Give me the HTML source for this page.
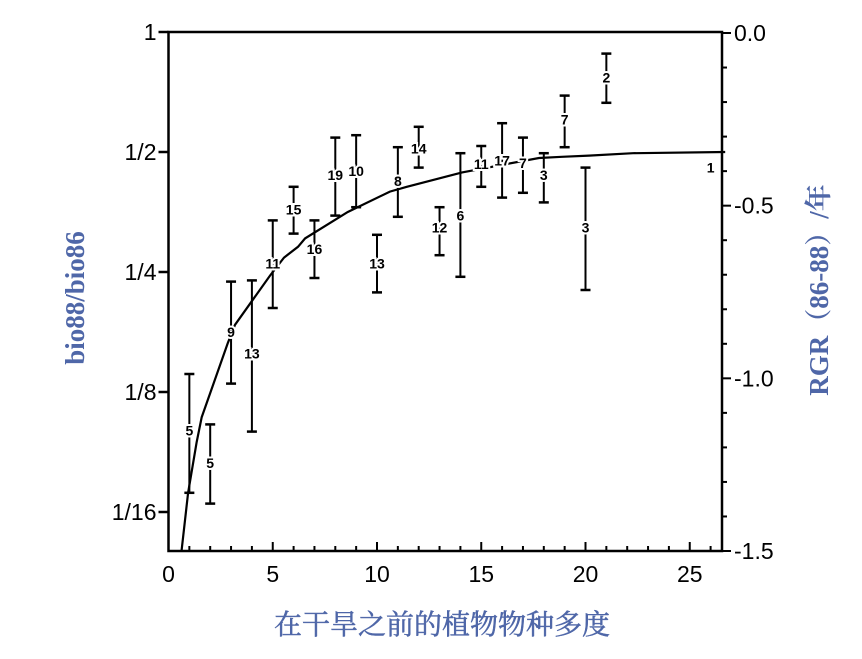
<!DOCTYPE html>
<html><head><meta charset="utf-8"><style>
body{margin:0;background:#fff}
svg{display:block}
.t{font-family:"Liberation Sans",sans-serif;font-size:23px;fill:#000}
.lb{font-family:"Liberation Sans",sans-serif;font-size:14px;font-weight:bold;fill:#000;stroke:#fff;stroke-width:4px;paint-order:stroke}
.ti{font-family:"Liberation Serif","Noto Serif CJK SC",serif;font-weight:bold;font-size:27px;fill:#4f67a8}
</style></head><body>
<svg width="862" height="659" viewBox="0 0 862 659">
<g id="marks"></g>
<g id="axes"></g>
<text class="ti" transform="translate(84,298) rotate(-90)" text-anchor="middle">bio88/bio86</text>
<text class="ti" transform="translate(828,290) rotate(-90)" text-anchor="middle">RGR（86-88）/年</text>
<text class="ti" x="442" y="634" text-anchor="middle" style="font-size:28px;font-weight:normal;stroke:#4f67a8;stroke-width:0.5px">在干旱之前的植物物种多度</text>
<script>
const xs=[1,2,3,4,5,6,7,8,9,10,11,12,13,14,15,16,17,18,19,20,21,26];
const ns=[5,5,9,13,11,15,16,19,10,13,8,14,12,6,11,17,7,3,7,3,2,1];
const means=[-3.32,-3.59,-2.5,-2.68,-1.93,-1.48,-1.81,-1.19,-1.16,-1.93,-1.24,-0.97,-1.63,-1.53,-1.1,-1.07,-1.09,-1.19,-0.73,-1.63,-0.38,-1.13];
const tops=[-2.85,-3.27,-2.08,-2.07,-1.57,-1.29,-1.57,-0.88,-0.86,-1.69,-0.96,-0.79,-1.46,-1.01,-0.95,-0.76,-0.88,-1.01,-0.53,-1.13,-0.18,null];
const bots=[-3.84,-3.93,-2.93,-3.33,-2.3,-1.68,-2.05,-1.53,-1.46,-2.17,-1.54,-1.13,-1.86,-2.04,-1.29,-1.38,-1.34,-1.42,-0.96,-2.15,-0.59,null];
const curveX=[0.63,0.94,1.35,1.59,2.85,3.19,4.87,5.54,6.21,6.55,8.6,10.62,11.43,14.08,17.77,18.87,20.17,22.28,26.7];
const curveY=[-4.32,-3.84,-3.42,-3.21,-2.59,-2.44,-2.03,-1.88,-1.79,-1.72,-1.5,-1.33,-1.29,-1.17,-1.05,-1.04,-1.03,-1.01,-1.0];
const leftTicks=[0,-1,-2,-3,-4];
const leftLabels=["1","1/2","1/4","1/8","1/16"];
const rightTicks=[0,-0.5,-1,-1.5];
const rightLabels=["0.0","-0.5","-1.0","-1.5"];
const xTicks=[0,5,10,15,20,25];
const NS="http://www.w3.org/2000/svg";
const L=168.5,R=722,T=32,B=551;
const sx=v=>L+v*20.85;
const sy=v=>T-v*120;
const sr=v=>33+(-v)*(B-33)/1.5;
function mk(tag,at,parent){const e=document.createElementNS(NS,tag);for(const k in at)e.setAttribute(k,at[k]);parent.appendChild(e);return e;}
const marks=document.getElementById('marks'),axes=document.getElementById('axes');
let d='';curveX.forEach((x,i)=>{d+=(i?'L':'M')+sx(x).toFixed(1)+','+sy(curveY[i]).toFixed(1);});
const cv=mk('path',{d:d,fill:'none',stroke:'#000','stroke-width':2.2},marks);


xs.forEach((x,i)=>{
  const px=sx(x);
  if(tops[i]!==null){
    const g=mk('g',{},marks);
    
    
    const y1=sy(tops[i]),y2=sy(bots[i]);
    mk('line',{x1:px,x2:px,y1:y1,y2:y2,stroke:'#000','stroke-width':2},g);
    mk('line',{x1:px-5,x2:px+5,y1:y1,y2:y1,stroke:'#000','stroke-width':2.5},g);
    mk('line',{x1:px-5,x2:px+5,y1:y2,y2:y2,stroke:'#000','stroke-width':2.5},g);
  }
  const t=mk('text',{x:px,y:sy(means[i])+5,'text-anchor':'middle',class:'lb'},marks);
  t.textContent=ns[i];
  
  
});
const fr=mk('rect',{x:L,y:T,width:R-L,height:B-T,fill:'none',stroke:'#000','stroke-width':2.5},axes);


leftTicks.forEach((v,i)=>{
  const y=sy(v);
  mk('line',{x1:L-10,x2:L,y1:y,y2:y,stroke:'#000','stroke-width':2.5},axes);
  const t=mk('text',{x:L-12,y:y+8,'text-anchor':'end',class:'t'},axes);
  t.textContent=leftLabels[i];
  
  
});
for(let k=0;k<=15;k++){const y=sr(-k/10);mk('line',{x1:R,x2:R+(k%5?5:9),y1:y,y2:y,stroke:'#000','stroke-width':2},axes);}
rightTicks.forEach((v,i)=>{
  const t=mk('text',{x:R+12,y:sr(v)+8,class:'t'},axes);
  t.textContent=rightLabels[i];
  
  
});
for(let k=0;k<=26;k++){const x=sx(k);mk('line',{x1:x,x2:x,y1:B,y2:B-(k%5?5:9),stroke:'#000','stroke-width':2},axes);}
xTicks.forEach(v=>{
  const t=mk('text',{x:sx(v),y:B+31,'text-anchor':'middle',class:'t'},axes);
  t.textContent=v;
  
  
});
</script>
</svg>
</body></html>
